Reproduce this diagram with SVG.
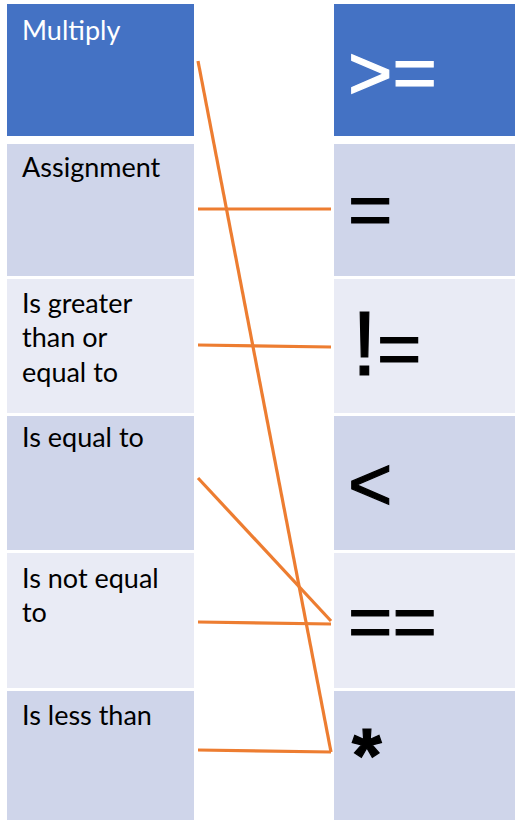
<svg xmlns="http://www.w3.org/2000/svg" width="515" height="820" viewBox="0 0 515 820">
<style>
.dark{fill:#4472C4}
.mid{fill:#CFD5EA}
.light{fill:#E9EBF5}
.lbl{font-family:Lato,"Open Sans","Liberation Sans",sans-serif;font-size:27px;fill:#000}
.lblw{fill:#fff}
.sym{font-family:"Liberation Sans",Arial,sans-serif;font-size:76px;fill:#000;stroke:#000;stroke-width:1.2}
.symw{fill:#fff;stroke:#fff}
.conn{stroke:#ED7D31;stroke-width:3.2;fill:none}
</style>
<rect width="515" height="820" fill="#fff"/>
<g id="left-multiply"><rect class="dark" x="7" y="4" width="187" height="132"/><text class="lbl lblw" x="22" y="40">Multiply</text></g>
<g id="left-assignment"><rect class="mid" x="7" y="144" width="187" height="132"/><text class="lbl" x="22" y="177">Assignment</text></g>
<g id="left-greater-equal"><rect class="light" x="7" y="279" width="187" height="134"/><text class="lbl" x="22" y="313">Is greater</text><text class="lbl" x="22" y="347">than or</text><text class="lbl" x="22" y="382">equal to</text></g>
<g id="left-equal"><rect class="mid" x="7" y="416" width="187" height="134"/><text class="lbl" x="22" y="447">Is equal to</text></g>
<g id="left-not-equal"><rect class="light" x="7" y="553" width="187" height="135"/><text class="lbl" x="22" y="588">Is not equal</text><text class="lbl" x="22" y="622">to</text></g>
<g id="left-less"><rect class="mid" x="7" y="691" width="187" height="129"/><text class="lbl" x="22" y="725">Is less than</text></g>
<g id="right-ge"><rect class="dark" x="334" y="4" width="181" height="132"/><text class="sym symw" x="348" y="99">&gt;=</text></g>
<g id="right-assign"><rect class="mid" x="334" y="144" width="181" height="132"/><text class="sym" x="348" y="236">=</text></g>
<g id="right-ne"><rect class="light" x="334" y="279" width="181" height="134"/><text class="sym" x="352" y="375"><tspan font-size="90">!</tspan><tspan>=</tspan></text></g>
<g id="right-lt"><rect class="mid" x="334" y="416" width="181" height="134"/><text class="sym" x="348" y="510">&lt;</text></g>
<g id="right-eq"><rect class="light" x="334" y="553" width="181" height="135"/><text class="sym" x="348" y="648">==</text></g>
<g id="right-mul"><rect class="mid" x="334" y="691" width="181" height="129"/><text class="sym" x="352" y="781" font-size="128" font-weight="bold" stroke-width="0">*</text></g>
<g id="connectors">
<line class="conn" x1="198" y1="61" x2="331" y2="752"/>
<line class="conn" x1="198" y1="209" x2="331" y2="209"/>
<line class="conn" x1="198" y1="345" x2="331" y2="347"/>
<line class="conn" x1="198" y1="478" x2="331" y2="621"/>
<line class="conn" x1="198" y1="622" x2="331" y2="624"/>
<line class="conn" x1="198" y1="750" x2="331" y2="752"/>
</g>
</svg>
